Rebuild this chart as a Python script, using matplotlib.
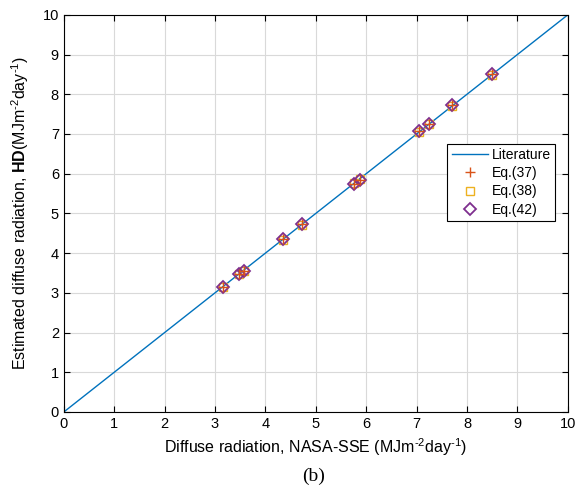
import matplotlib
matplotlib.use("Agg")
import matplotlib.pyplot as plt

plt.rcParams['font.family'] = ['Liberation Sans', 'DejaVu Sans']
plt.rcParams['mathtext.fontset'] = 'custom'
plt.rcParams['mathtext.rm'] = 'Liberation Sans'
plt.rcParams['mathtext.it'] = 'Liberation Sans:italic'
plt.rcParams['mathtext.bf'] = 'Liberation Sans:bold'

# Data
nasa_sse = [3.15, 3.47, 3.57, 4.35, 4.72, 5.75, 5.87, 7.05, 7.25, 7.70, 8.50]
eq37 = [3.15, 3.48, 3.55, 4.35, 4.73, 5.75, 5.85, 7.07, 7.25, 7.72, 8.50]
eq38 = [3.14, 3.47, 3.56, 4.34, 4.72, 5.76, 5.86, 7.06, 7.24, 7.71, 8.49]
eq42 = [3.15, 3.48, 3.56, 4.35, 4.73, 5.75, 5.85, 7.07, 7.25, 7.72, 8.50]
lit_x = [0, 10]
lit_y = [0, 10]

fig = plt.figure(figsize=(5.8, 4.94), dpi=100)
ax = fig.add_axes([0.110, 0.166, 0.869, 0.804])

ax.plot(lit_x, lit_y, color='#0072BD', lw=1.0, label='Literature', zorder=2)
ax.plot(nasa_sse, eq37, ls='none', marker='+', color='#D95319', ms=7, mew=1.0,
        label='Eq.(37)', zorder=4)
ax.plot(nasa_sse, eq38, ls='none', marker='s', mfc='none', mec='#EDB120', ms=5.5,
        mew=1.0, label='Eq.(38)', zorder=3)
ax.plot(nasa_sse, eq42, ls='none', marker='D', mfc='none', mec='#7E2F8E', ms=6,
        mew=1.3, label='Eq.(42)', zorder=3)

ax.set_xlim(0, 10)
ax.set_ylim(0, 10)
ax.set_xticks(range(0, 11))
ax.set_yticks(range(0, 11))
ax.grid(True, color='#d9d9d9', lw=0.8)
ax.set_axisbelow(True)
ax.tick_params(direction='in', length=4, labelsize=10.5, top=True, right=True)
for s in ax.spines.values():
    s.set_linewidth(0.8)

ax.set_xlabel('Diffuse radiation, NASA-SSE (MJm$^{\u20102}$day$^{\u20101}$)', fontsize=11.5,
              labelpad=4)
ax.set_ylabel('Estimated diffuse radiation, $\\mathbf{HD}$(MJm$^{\u20102}$day$^{\u20101}$)',
              fontsize=11.5, labelpad=8)

leg = ax.legend(loc='upper right', bbox_to_anchor=(0.975, 0.675), fontsize=10,
                fancybox=False, framealpha=1, edgecolor='black',
                borderpad=0.3, labelspacing=0.3, handlelength=2.6, handletextpad=0.3,
                borderaxespad=0)
leg.get_frame().set_linewidth(0.8)

fig.text(0.54, 0.018, '(b)', ha='center', va='bottom', fontsize=14,
         family='Liberation Serif')

fig.savefig('out.png', dpi=100)
